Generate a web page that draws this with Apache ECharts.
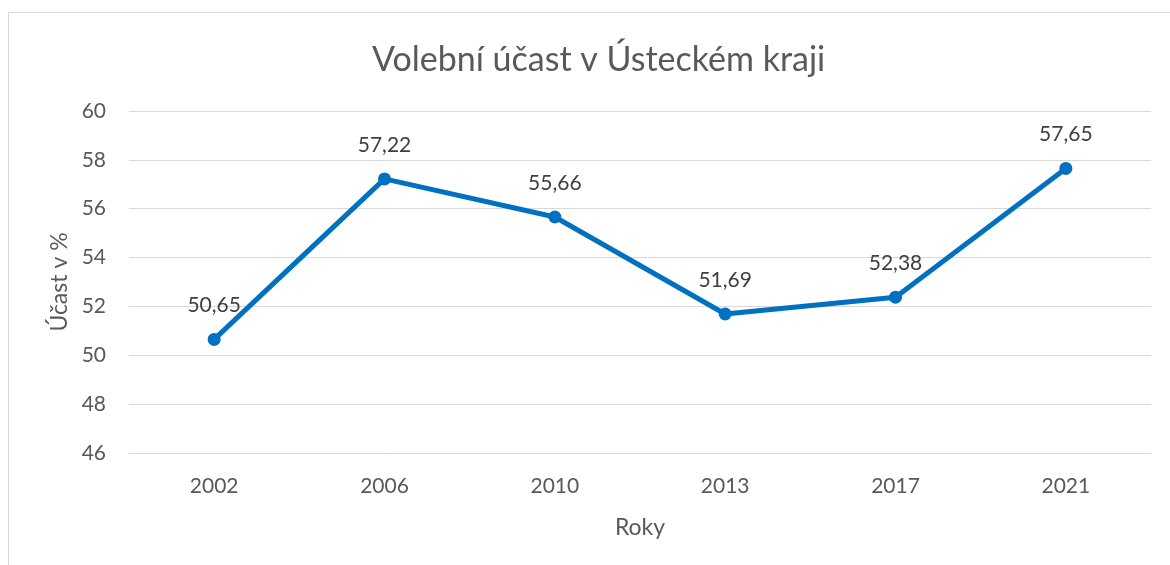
<!DOCTYPE html>
<html>
<head>
<meta charset="utf-8">
<script src="https://cdn.jsdelivr.net/npm/echarts@6/dist/echarts.min.js"></script>
<style>
  html, body { margin: 0; padding: 0; background: #fff; }
  .frame {
    position: absolute; left: 8px; top: 12px;
    width: 1200px; height: 600px;
    border: 1px solid #d9d9d9;
  }
  .turnout-chart {
    position: absolute; left: 0; top: 0;
    width: 1170px; height: 565px;
  }
</style>
</head>
<body>
<div class="frame"></div>
<div class="turnout-chart" id="turnout"></div>
<script>
const years = ['2002', '2006', '2010', '2013', '2017', '2021']
const turnout = [50.65, 57.22, 55.66, 51.69, 52.38, 57.65]
const yMin = 46
const yMax = 60
const yStep = 2

const font = 'Lato, "Open Sans", sans-serif'

const option = {
  animation: false,
  textStyle: { fontFamily: font },
  title: {
    text: 'Volební účast v Ústeckém kraji',
    left: 367,
    top: 38,
    textStyle: {
      fontFamily: font,
      fontSize: 34,
      fontWeight: 'normal',
      color: '#595959'
    }
  },
  grid: {
    left: 129,
    right: 19,
    top: 111,
    bottom: 112
  },
  xAxis: {
    type: 'category',
    data: years,
    name: 'Roky',
    nameLocation: 'middle',
    nameGap: 63,
    nameTextStyle: { fontSize: 23, color: '#595959', fontFamily: font },
    axisLine: { lineStyle: { color: '#d9d9d9', width: 1 } },
    axisTick: { show: false },
    axisLabel: { fontSize: 21, color: '#595959', margin: 23, fontFamily: font }
  },
  yAxis: {
    type: 'value',
    min: yMin,
    max: yMax,
    interval: yStep,
    name: 'Účast v %',
    nameLocation: 'middle',
    nameGap: 58,
    nameTextStyle: { fontSize: 23, color: '#595959', fontFamily: font },
    axisLine: { show: false },
    axisTick: { show: false },
    axisLabel: { fontSize: 21, color: '#595959', margin: 23, fontFamily: font },
    splitLine: { lineStyle: { color: '#d9d9d9', width: 1 } }
  },
  series: [
    {
      type: 'line',
      data: turnout,
      symbol: 'circle',
      symbolSize: 13,
      lineStyle: { color: '#0070C0', width: 5 },
      itemStyle: { color: '#0070C0' },
      label: {
        show: true,
        position: 'top',
        distance: 17,
        fontSize: 21,
        color: '#404040',
        fontFamily: font,
        formatter: p => p.value.toFixed(2).replace('.', ',')
      }
    }
  ]
}

const chart = echarts.init(document.getElementById('turnout'))
chart.setOption(option)
</script>
</body>
</html>
